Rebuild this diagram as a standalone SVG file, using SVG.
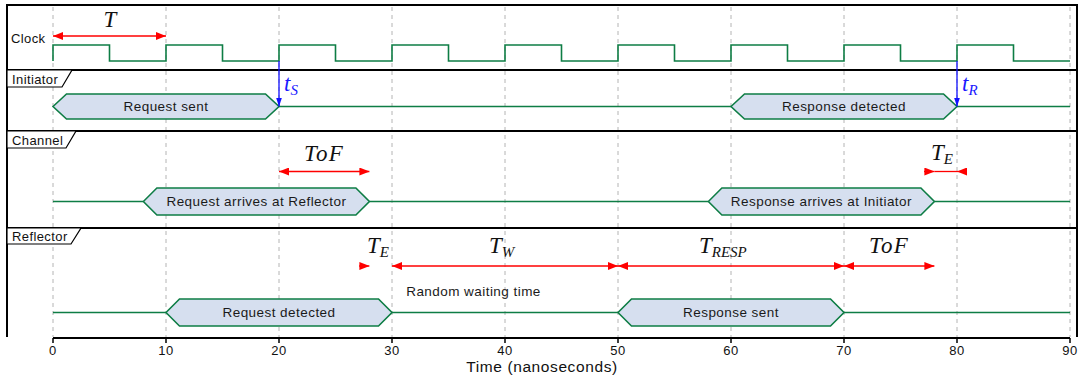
<svg xmlns="http://www.w3.org/2000/svg" width="1081" height="375" viewBox="0 0 1081 375">
  <style>
    .grid { stroke: #b4b4b4; stroke-width: 1; stroke-dasharray: 4 4; }
    .frame { stroke: #000; stroke-width: 2; fill: none; }
    .sig { stroke: #0e7d45; stroke-width: 1.6; fill: none; }
    .hex { stroke: #0e7d45; stroke-width: 1.6; fill: #d6dfef; stroke-linejoin: miter; }
    .lbl { font-family: "Liberation Sans", Arial, sans-serif; font-size: 13.5px; letter-spacing: 0.45px; fill: #1a1a1a; text-anchor: middle; }
    .tag { fill: #fff; stroke: #000; stroke-width: 1.2; }
    .tagtxt { font-family: "Liberation Sans", Arial, sans-serif; font-size: 13px; letter-spacing: 0.4px; fill: #111; }
    .tick { font-family: "Liberation Sans", Arial, sans-serif; font-size: 13px; letter-spacing: 0.6px; fill: #111; text-anchor: middle; }
    .axtitle { font-family: "Liberation Sans", Arial, sans-serif; font-size: 15.5px; letter-spacing: 0.6px; fill: #111; text-anchor: middle; }
    .math { font-family: "Liberation Serif", "Times New Roman", serif; font-style: italic; font-size: 23px; fill: #111; }
    .mathb { font-family: "Liberation Serif", "Times New Roman", serif; font-style: italic; font-size: 23px; fill: #1a1aff; }
    .red { stroke: #ff0000; stroke-width: 1.3; fill: none; }
    .blue { stroke: #1010ff; stroke-width: 1.3; fill: none; }
  </style>
  <defs>
    <marker id="ra" viewBox="0 0 10 8" refX="10" refY="4" markerWidth="10" markerHeight="8" markerUnits="userSpaceOnUse" orient="auto-start-reverse">
      <path d="M0,0 L10,4 L0,8 z" fill="#ff0000"/>
    </marker>
    <marker id="ba" viewBox="0 0 9 6" refX="9" refY="3" markerWidth="9" markerHeight="6" markerUnits="userSpaceOnUse" orient="auto">
      <path d="M0,0 L9,3 L0,6 z" fill="#1010ff"/>
    </marker>
  </defs>

  <!-- time grid, every 10 ns -->
  <g id="grid">
    <line class="grid" x1="53" y1="7" x2="53" y2="337"/>
    <line class="grid" x1="166" y1="7" x2="166" y2="337"/>
    <line class="grid" x1="279" y1="7" x2="279" y2="337"/>
    <line class="grid" x1="392" y1="7" x2="392" y2="337"/>
    <line class="grid" x1="505" y1="7" x2="505" y2="337"/>
    <line class="grid" x1="618" y1="7" x2="618" y2="337"/>
    <line class="grid" x1="731" y1="7" x2="731" y2="337"/>
    <line class="grid" x1="844" y1="7" x2="844" y2="337"/>
    <line class="grid" x1="957" y1="7" x2="957" y2="337"/>
    <line class="grid" x1="1070" y1="7" x2="1070" y2="337"/>
  </g>

  <!-- outer frame and lane separators -->
  <g id="frame">
    <path class="frame" d="M7,337 V5 H1077 V337"/>
    <line class="frame" x1="7" y1="70" x2="1077" y2="70"/>
    <line class="frame" x1="7" y1="131" x2="1077" y2="131"/>
    <line class="frame" x1="7" y1="228" x2="1077" y2="228"/>
  </g>

  <!-- clock lane -->
  <g id="clock">
    <text class="tagtxt" x="11" y="43">Clock</text>
    <path class="sig" d="M53,61 V45 H109.5 V61 H166 V45 H222.5 V61 H279 V45 H335.5 V61 H392 V45 H448.5 V61 H505 V45 H561.5 V61 H618 V45 H674.5 V61 H731 V45 H787.5 V61 H844 V45 H900.5 V61 H957 V45 H1013.5 V61 H1070"/>
  </g>

  <!-- initiator lane -->
  <g id="initiator">
    <polygon class="tag" points="7,70 72,70 62,87 7,87"/>
    <text class="tagtxt" x="12" y="84">Initiator</text>
    <path class="sig" d="M279,106.5 H731 M957,106.5 H1070"/>
    <g id="request-sent">
      <polygon class="hex" points="53,106.5 66.5,94 265.5,94 279,106.5 265.5,119 66.5,119"/>
      <text class="lbl" x="166" y="111">Request sent</text>
    </g>
    <g id="response-detected">
      <polygon class="hex" points="731,106.5 744.5,94 943.5,94 957,106.5 943.5,119 744.5,119"/>
      <text class="lbl" x="844" y="111">Response detected</text>
    </g>
  </g>

  <!-- channel lane -->
  <g id="channel">
    <polygon class="tag" points="7,131 76,131 66,148 7,148"/>
    <text class="tagtxt" x="12" y="145">Channel</text>
    <path class="sig" d="M53,201.5 H143.4 M369.4,201.5 H708.4 M934.4,201.5 H1070"/>
    <g id="request-arrives">
      <polygon class="hex" points="143.4,201.5 156.9,188 355.9,188 369.4,201.5 355.9,215 156.9,215"/>
      <text class="lbl" x="256.4" y="206">Request arrives at Reflector</text>
    </g>
    <g id="response-arrives">
      <polygon class="hex" points="708.4,201.5 721.9,188 920.9,188 934.4,201.5 920.9,215 721.9,215"/>
      <text class="lbl" x="821.4" y="206">Response arrives at Initiator</text>
    </g>
  </g>

  <!-- reflector lane -->
  <g id="reflector">
    <polygon class="tag" points="7,228 81,228 71,244 7,244"/>
    <text class="tagtxt" x="12" y="241">Reflector</text>
    <path class="sig" d="M53,312.5 H166 M392,312.5 H618 M844,312.5 H1070"/>
    <g id="request-detected">
      <polygon class="hex" points="166,312.5 179.5,299 378.5,299 392,312.5 378.5,326 179.5,326"/>
      <text class="lbl" x="279" y="317">Request detected</text>
    </g>
    <g id="response-sent">
      <polygon class="hex" points="618,312.5 631.5,299 830.5,299 844,312.5 830.5,326 631.5,326"/>
      <text class="lbl" x="731" y="317">Response sent</text>
    </g>
    <text class="lbl" x="473.5" y="296">Random waiting time</text>
  </g>

  <!-- interval markers and event arrows -->
  <g id="connectors">
    <line class="red" x1="53" y1="36" x2="166" y2="36" marker-start="url(#ra)" marker-end="url(#ra)"/>
    <line class="red" x1="279" y1="171.5" x2="369.4" y2="171.5" marker-start="url(#ra)" marker-end="url(#ra)"/>
    <line class="red" x1="924" y1="171.5" x2="934.4" y2="171.5" marker-end="url(#ra)"/>
    <line class="red" x1="967" y1="171.5" x2="957" y2="171.5" marker-end="url(#ra)"/>
    <line class="red" x1="934.4" y1="171.5" x2="957" y2="171.5"/>
    <line class="red" x1="359" y1="266" x2="369.4" y2="266" marker-end="url(#ra)"/>
    <line class="red" x1="392" y1="266" x2="618" y2="266" marker-start="url(#ra)" marker-end="url(#ra)"/>
    <line class="red" x1="618" y1="266" x2="844" y2="266" marker-start="url(#ra)" marker-end="url(#ra)"/>
    <line class="red" x1="844" y1="266" x2="934.4" y2="266" marker-start="url(#ra)" marker-end="url(#ra)"/>
    <line class="blue" x1="279" y1="61" x2="279" y2="106.5" marker-end="url(#ba)"/>
    <line class="blue" x1="957" y1="61" x2="957" y2="106.5" marker-end="url(#ba)"/>
  </g>

  <!-- interval and event labels -->
  <g id="labels">
    <text class="math" x="110" y="27" text-anchor="middle">T</text>
    <text class="mathb" x="284" y="91">t<tspan font-size="15" dy="4">S</tspan></text>
    <text class="mathb" x="962" y="91">t<tspan font-size="15" dy="4">R</tspan></text>
    <text class="math" x="324" y="161" text-anchor="middle" letter-spacing="1.2">ToF</text>
    <text class="math" x="931" y="160">T<tspan font-size="15" dy="4">E</tspan></text>
    <text class="math" x="367" y="253">T<tspan font-size="15" dy="4">E</tspan></text>
    <text class="math" x="489" y="253">T<tspan font-size="15" dy="4">W</tspan></text>
    <text class="math" x="699" y="253">T<tspan font-size="15" dy="4">RESP</tspan></text>
    <text class="math" x="889" y="253" text-anchor="middle" letter-spacing="1.2">ToF</text>
  </g>

  <!-- time axis -->
  <g id="axis">
    <line x1="53" y1="338" x2="1070" y2="338" stroke="#000" stroke-width="2"/>
    <path d="M53,338 V343 M166,338 V343 M279,338 V343 M392,338 V343 M505,338 V343 M618,338 V343 M731,338 V343 M844,338 V343 M957,338 V343 M1070,338 V343" stroke="#000" stroke-width="1.5"/>
    <text class="tick" x="53" y="355">0</text>
    <text class="tick" x="166" y="355">10</text>
    <text class="tick" x="279" y="355">20</text>
    <text class="tick" x="392" y="355">30</text>
    <text class="tick" x="505" y="355">40</text>
    <text class="tick" x="618" y="355">50</text>
    <text class="tick" x="731" y="355">60</text>
    <text class="tick" x="844" y="355">70</text>
    <text class="tick" x="957" y="355">80</text>
    <text class="tick" x="1070" y="355">90</text>
    <text class="axtitle" x="542" y="372">Time (nanoseconds)</text>
  </g>
</svg>
